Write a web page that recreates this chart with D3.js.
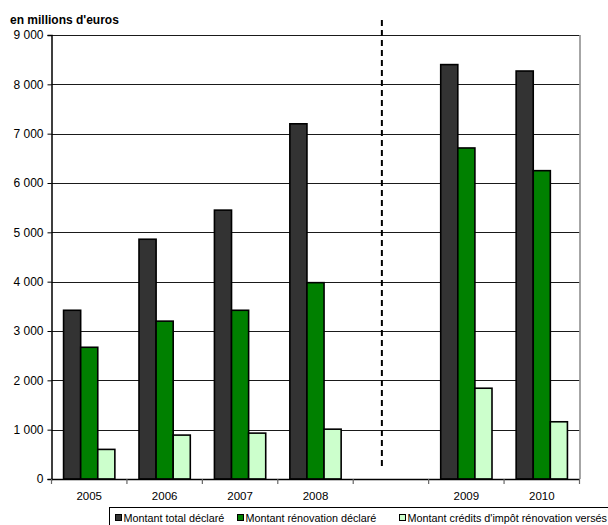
<!DOCTYPE html>
<html>
<head>
<meta charset="utf-8">
<script src="https://cdn.jsdelivr.net/npm/d3@7"></script>
<style>
  html, body { margin: 0; padding: 0; background: #fff; }
  svg { display: block; font-family: "Liberation Sans", Arial, sans-serif; }
</style>
</head>
<body>
<svg id="chart" width="608" height="525"></svg>
<script>
// Years on the axis; the empty slot separates 2008 from 2009
const categories = ["2005", "2006", "2007", "2008", "", "2009", "2010"];
const seriesNames = [
  "Montant total déclaré",
  "Montant rénovation déclaré",
  "Montant crédits d'impôt rénovation versés"
];
const montantTotal      = [3420, 4860, 5450, 7200, null, 8400, 8270];
const montantRenovation = [2670, 3200, 3420, 3980, null, 6710, 6250];
const montantCredits    = [600,  890,  930,  1010, null, 1840, 1160];
const yTicks = [0, 1000, 2000, 3000, 4000, 5000, 6000, 7000, 8000, 9000];
const colors = ["#333333", "#008000", "#ccffcc"];

const seriesValues = [montantTotal, montantRenovation, montantCredits];

const svg = d3.select("#chart");
const plotLeft = 51.5, plotRight = 579.5, plotTop = 35, plotBottom = 479;

// slot keys must be unique, so the blank slot gets its index
const keys = categories.map((c, i) => "k" + i);
const x0 = d3.scaleBand().domain(keys).range([plotLeft, plotRight]).padding(0);
const bw = x0.bandwidth();
const groupW = bw * 0.68;
const x1 = d3.scaleBand().domain(d3.range(3)).range([(bw - groupW) / 2, (bw + groupW) / 2]).padding(0);
const y = d3.scaleLinear().domain([0, 9000]).range([plotBottom, plotTop]);

const fmt = v => d3.format(",")(v).replace(/,/g, " ");

// horizontal grid lines
svg.append("g")
  .selectAll("line")
  .data(yTicks.filter(d => d > 0))
  .join("line")
  .attr("x1", plotLeft).attr("x2", plotRight)
  .attr("y1", d => Math.round(y(d)) + 0.5).attr("y2", d => Math.round(y(d)) + 0.5)
  .attr("stroke", "#1a1a1a").attr("stroke-width", 1);

// right frame
svg.append("line")
  .attr("x1", plotRight + 0.5).attr("x2", plotRight + 0.5)
  .attr("y1", plotTop).attr("y2", plotBottom)
  .attr("stroke", "#888").attr("stroke-width", 1.5);

// y axis
const yAxis = d3.axisLeft(y).tickValues(yTicks).tickFormat(fmt).tickSize(4).tickPadding(4);
const gy = svg.append("g").attr("transform", `translate(${plotLeft},0)`).call(yAxis);
gy.attr("font-family", "Liberation Sans, Arial, sans-serif");
gy.select(".domain").attr("stroke", "#000").attr("stroke-width", 1.5);
gy.selectAll(".tick line").attr("stroke", "#000");
gy.selectAll(".tick text").attr("font-size", 12).attr("fill", "#000");

// bars
const groups = svg.append("g")
  .selectAll("g")
  .data(categories.map((c, i) => ({ key: keys[i], vals: seriesValues.map(s => s[i]) })))
  .join("g")
  .attr("transform", d => `translate(${x0(d.key)},0)`);

groups.selectAll("rect")
  .data(d => d.vals.map((v, s) => ({ v, s })).filter(e => e.v != null))
  .join("rect")
  .attr("x", e => x1(e.s))
  .attr("width", x1.bandwidth())
  .attr("y", e => y(e.v))
  .attr("height", e => y(0) - y(e.v))
  .attr("fill", e => colors[e.s])
  .attr("stroke", "#000")
  .attr("stroke-width", 1.6);

// x axis with ticks at slot boundaries
const gx = svg.append("g");
gx.append("line")
  .attr("x1", plotLeft).attr("x2", plotRight)
  .attr("y1", plotBottom + 0.5).attr("y2", plotBottom + 0.5)
  .attr("stroke", "#000").attr("stroke-width", 1.5);
gx.selectAll("line.b")
  .data(keys.concat(["end"]))
  .join("line")
  .attr("class", "b")
  .attr("x1", (k, i) => i < keys.length ? x0(k) : plotRight)
  .attr("x2", (k, i) => i < keys.length ? x0(k) : plotRight)
  .attr("y1", plotBottom).attr("y2", plotBottom + 5)
  .attr("stroke", "#666").attr("stroke-width", 1.2);
gx.selectAll("text")
  .data(categories.map((c, i) => ({ c, k: keys[i] })))
  .join("text")
  .attr("x", d => x0(d.k) + bw / 2)
  .attr("y", plotBottom + 21)
  .attr("text-anchor", "middle")
  .attr("font-size", 11.5)
  .text(d => d.c);

// dashed separator in the empty slot
svg.append("line")
  .attr("x1", x0(keys[4]) + bw * 0.38).attr("x2", x0(keys[4]) + bw * 0.38)
  .attr("y1", 20).attr("y2", 470)
  .attr("stroke", "#000").attr("stroke-width", 2)
  .attr("stroke-dasharray", "6,4");

// unit title
svg.append("text")
  .attr("x", 10).attr("y", 24)
  .attr("font-size", 12).attr("font-weight", "bold")
  .text("en millions d'euros");

// legend
const lg = svg.append("g");
lg.append("rect")
  .attr("x", 109.5).attr("y", 507.5)
  .attr("width", 510).attr("height", 30)
  .attr("fill", "#fff").attr("stroke", "#000").attr("stroke-width", 1);
const legendX = [115, 237, 399];
const item = lg.selectAll("g.item")
  .data(seriesNames)
  .join("g").attr("class", "item")
  .attr("transform", (d, i) => `translate(${legendX[i]},0)`);
item.append("rect")
  .attr("x", 0.5).attr("y", 514.5).attr("width", 6).attr("height", 6)
  .attr("fill", (d, i) => colors[i]).attr("stroke", "#000").attr("stroke-width", 1);
item.append("text")
  .attr("x", 8.5).attr("y", 521.5)
  .attr("font-size", 10.8)
  .text(d => d);
</script>
</body>
</html>
